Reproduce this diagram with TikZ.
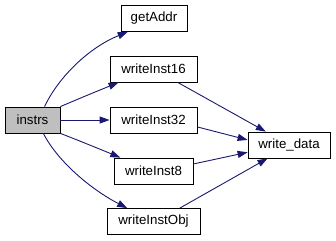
\documentclass[tikz,border=0pt]{standalone}
\usepackage{fontspec}
\setmainfont{Liberation Sans}
\usetikzlibrary{arrows.meta}
\definecolor{edgeblue}{HTML}{191970}
\definecolor{nodegray}{HTML}{BFBFBF}
\begin{document}
\begin{tikzpicture}[x=1pt,y=-1pt,
  fn/.style={draw=black, fill=white, line width=0.8pt, minimum height=26pt,
    inner sep=0pt, font=\fontsize{13.3}{16}\selectfont},
  cur/.style={fn, fill=nodegray},
  call/.style={draw=edgeblue, line width=0.9pt,
    -{Triangle[length=10pt,width=7pt]}, color=edgeblue}]
\useasboundingbox (0,0) rectangle (336,240);

% functions
\node[cur, minimum width=55pt] (instrs) at (32.5,120) {instrs};
\node[fn, minimum width=66pt] (getAddr) at (154,18.5) {getAddr};
\node[fn, minimum width=87pt] (w16) at (153.5,69) {writeInst16};
\node[fn, minimum width=87pt] (w32) at (153.5,120) {writeInst32};
\node[fn, minimum width=79pt] (w8) at (153.5,171) {writeInst8};
\node[fn, minimum width=93pt] (wobj) at (153.5,221.5) {writeInstObj};
\node[fn, minimum width=82pt] (wdata) at (289,145) {write\_data};

% calls from instrs
\draw[call] (instrs.48) .. controls (58,78) and (88,48) .. (getAddr.207);
\draw[call] (instrs.north east) .. controls (78,99) and (100,90) .. (w16.201);
\draw[call] (instrs.east) -- (w32.west);
\draw[call] (instrs.south east) .. controls (80,141) and (102,150) .. (w8.158);
\draw[call] (instrs.-51) .. controls (58,162) and (92,190) .. (wobj.153);

% calls into write_data
\draw[call] (w16.-29) -- (wdata.150);
\draw[call] (w32.-9) -- (wdata.173);
\draw[call] (w8.10) -- (wdata.190);
\draw[call] (wobj.27) -- (wdata.212);
\end{tikzpicture}
\end{document}
